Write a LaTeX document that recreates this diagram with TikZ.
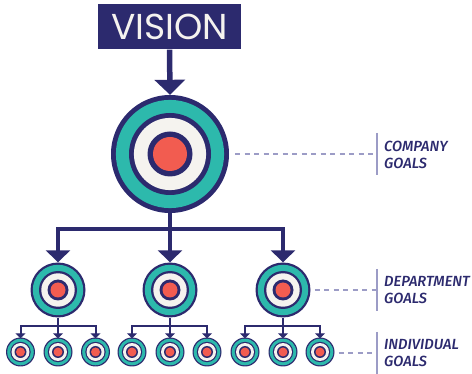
\documentclass[tikz,border=0pt]{standalone}
\usepackage{fontspec}
\setmainfont{Poppins}
\newfontfamily\lab{Fira Sans}[ItalicFont={Fira Sans Medium Italic}]
\usetikzlibrary{arrows.meta}
\definecolor{navy}{HTML}{2C2A6E}
\definecolor{teal2}{HTML}{2DB9AC}
\definecolor{redd}{HTML}{F25C50}
\definecolor{paper}{HTML}{F5F3EF}
\definecolor{lav}{HTML}{9C9CC6}
\tikzset{
  disc/.style={circle,inner sep=0pt,minimum size=#1,draw=none},
  visionbox/.style={fill=navy,text=paper,minimum width=143pt,minimum height=45pt,inner sep=0pt,font=\fontsize{36}{36}\selectfont},
  linkA/.style={draw=navy,line width=5.5pt},
  linkB/.style={draw=navy,line width=4.5pt},
  linkC/.style={draw=navy,line width=2pt},
  tipA/.style={-{Triangle[width=30pt,length=15pt]}},
  tipB/.style={-{Triangle[width=24pt,length=12pt]}},
  tipC/.style={-{Triangle[width=10pt,length=5pt]}},
  dashline/.style={draw=lav,line width=1.6pt,dash pattern=on 5pt off 4.5pt},
  barline/.style={draw=lav,line width=2pt},
  goal/.style={anchor=west,inner sep=0pt,align=left,text=navy,font=\lab\itshape\fontsize{14.7}{17}\selectfont},
}
% \target{name}{x}{y}{r outer}{r ring}{r dot}{r red}
\newcommand{\target}[7]{%
  \node[disc=#4*2pt,fill=navy] (#1) at (#2,#3) {};
  \node[disc=#4*2pt-2*(#4pt/12),fill=teal2] at (#2,#3) {};
  \node[disc=#5*2pt,fill=navy] at (#2,#3) {};
  \node[disc=#5*2pt-2*(#4pt/12),fill=paper] at (#2,#3) {};
  \node[disc=#6*2pt,fill=navy] at (#2,#3) {};
  \node[disc=#7*2pt,fill=redd] at (#2,#3) {};
}
\begin{document}
\begin{tikzpicture}[x=1pt,y=-1pt]
\useasboundingbox (0,0) rectangle (472,374);
\node[visionbox] (vision) at (169.5,27) {VISION};
% targets
\target{top}{170}{154}{59}{41}{22.5}{17}
\foreach \n/\x in {d1/58,d2/170,d3/283}{\target{\n}{\x}{290}{27.5}{19}{10.5}{7.5}}
\foreach \n/\x in {i1/20.5,i2/58,i3/95.5,i4/132,i5/170,i6/207,i7/245,i8/283,i9/320}{\target{\n}{\x}{352}{14.5}{10.2}{6}{4.5}}
% connectors
\draw[linkA,tipA] (vision.south) -- (top.north);
\coordinate (busA) at (170,229);
\draw[linkB] (top.south) -- (busA);
\draw[linkB,tipB] (busA) -| (d1.north);
\draw[linkB,tipB] (busA) -- (d2.north);
\draw[linkB,tipB] (busA) -| (d3.north);
\foreach \d/\a/\b/\c in {d1/i1/i2/i3,d2/i4/i5/i6,d3/i7/i8/i9}{
  \coordinate (bus) at (\d |- 0,326);
  \draw[linkC] (\d.south) -- (bus);
  \draw[linkC,tipC] (bus) -| ([yshift=-1pt]\a.north);
  \draw[linkC,tipC] (bus) -- ([yshift=-1pt]\b.north);
  \draw[linkC,tipC] (bus) -| ([yshift=-1pt]\c.north);
}
% labels
\coordinate (b1t) at (377,133); \coordinate (b1b) at (377,175); \coordinate (b1m) at (377,154);
\coordinate (b2t) at (377,269); \coordinate (b2b) at (377,311); \coordinate (b2m) at (377,290);
\coordinate (b3t) at (377,332); \coordinate (b3b) at (377,374); \coordinate (b3m) at (377,353);
\draw[barline] (b1t) -- (b1b);
\draw[barline] (b2t) -- (b2b);
\draw[barline] (b3t) -- (b3b);
\draw[dashline] ([xshift=6pt]top.east) -- (b1m);
\draw[dashline] ([xshift=4pt]d3.east) -- (b2m);
\draw[dashline] ([xshift=4pt]i9.east |- b3m) -- (b3m);
\node[goal] (g1) at (384,154.5) {COMPANY\\GOALS};
\node[goal] (g2) at (384,290.5) {DEPARTMENT\\GOALS};
\node[goal] (g3) at (384,353.5) {INDIVIDUAL\\GOALS};
\end{tikzpicture}
\end{document}
